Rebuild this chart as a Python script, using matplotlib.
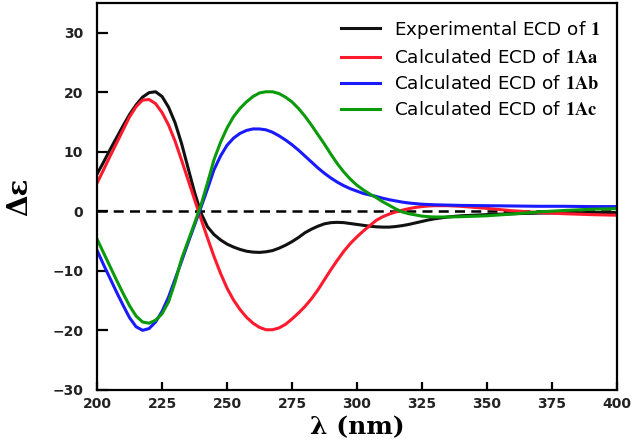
## ECD spectra: experimental vs calculated
import numpy as np
import matplotlib.pyplot as plt

plt.rcParams['mathtext.fontset'] = 'stix'

#%% DATA
wl = [200, 202.5, 205, 207.5, 210, 212.5, 215, 217.5, 220, 222.5,
      225, 227.5, 230, 232.5, 235, 237.5, 240, 242.5, 245, 247.5,
      250, 252.5, 255, 257.5, 260, 262.5, 265, 267.5, 270, 272.5,
      275, 277.5, 280, 282.5, 285, 287.5, 290, 292.5, 295, 297.5,
      300, 302.5, 305, 307.5, 310, 312.5, 315, 317.5, 320, 322.5,
      325, 327.5, 330, 335, 340, 350, 360, 370, 380, 390, 400]

exp_1 = [6.3, 8.3, 10.4, 12.4, 14.4, 16.3, 17.9, 19.2, 19.95, 20.1,
         19.3, 17.5, 14.9, 11.4, 7.3, 3.2, -0.3, -2.6, -3.9, -4.8,
         -5.5, -6.0, -6.4, -6.7, -6.85, -6.9, -6.8, -6.6, -6.2, -5.7,
         -5.1, -4.4, -3.6, -3.0, -2.5, -2.1, -1.9, -1.85, -1.9, -2.05,
         -2.2, -2.35, -2.5, -2.6, -2.65, -2.65, -2.55, -2.4, -2.2, -1.95,
         -1.7, -1.45, -1.25, -0.95, -0.75, -0.55, -0.4, -0.3, -0.25, -0.2, -0.2]

calc_1Aa = [4.8, 7.0, 9.3, 11.5, 13.7, 15.9, 17.6, 18.7, 18.8, 18.1,
            16.6, 14.5, 11.8, 8.6, 5.3, 2.0, -1.3, -4.5, -7.6, -10.4,
            -12.9, -14.9, -16.5, -17.8, -18.8, -19.5, -19.9, -19.9, -19.6, -19.0,
            -18.1, -17.1, -16.0, -14.7, -13.2, -11.5, -9.8, -8.2, -6.7, -5.4,
            -4.3, -3.3, -2.4, -1.5, -0.9, -0.45, -0.1, 0.2, 0.45, 0.65,
            0.8, 0.9, 0.95, 0.95, 0.85, 0.5, 0.1, -0.2, -0.4, -0.55, -0.65]

calc_1Ab = [-6.6, -9.0, -11.3, -13.6, -15.8, -17.9, -19.4, -20.0, -19.7, -18.6,
            -16.8, -14.4, -11.4, -8.4, -5.3, -2.3, 0.7, 3.8, 7.0, 9.3,
            11.1, 12.3, 13.1, 13.6, 13.85, 13.85, 13.7, 13.3, 12.7, 12.0,
            11.2, 10.3, 9.3, 8.3, 7.3, 6.4, 5.6, 4.9, 4.3, 3.8,
            3.4, 3.0, 2.75, 2.5, 2.2, 1.95, 1.75, 1.55, 1.4, 1.3,
            1.2, 1.15, 1.1, 1.05, 1.0, 0.95, 0.9, 0.85, 0.85, 0.8, 0.8]

calc_1Ac = [-4.7, -7.0, -9.3, -11.6, -13.8, -15.9, -17.6, -18.6, -18.8, -18.3,
            -17.2, -15.2, -11.9, -8.0, -5.0, -2.0, 1.1, 4.8, 8.7, 11.6,
            14.0, 15.9, 17.3, 18.4, 19.3, 19.9, 20.1, 20.1, 19.8, 19.2,
            18.4, 17.3, 16.0, 14.5, 12.9, 11.3, 9.6, 8.0, 6.6, 5.4,
            4.4, 3.6, 2.9, 2.3, 1.6, 1.0, 0.4, -0.1, -0.4, -0.6,
            -0.8, -0.9, -0.95, -0.95, -0.9, -0.75, -0.45, -0.1, 0.15, 0.35, 0.45]

labels = [r'Experimental ECD of $\mathbf{1}$',
          r'Calculated ECD of $\mathbf{1Aa}$',
          r'Calculated ECD of $\mathbf{1Ab}$',
          r'Calculated ECD of $\mathbf{1Ac}$']
colors = ['#111111', '#ff1a2e', '#1a1aff', '#0a9a0a']

#%% FIGURE
fig = plt.figure(figsize=(6.35, 4.44), dpi=100)
ax = fig.add_axes([0.153, 0.122, 0.818, 0.871])

ax.axhline(0, color='black', lw=1.8, ls=(0, (4, 2.5)), zorder=1)
for y, lab, c in zip([exp_1, calc_1Aa, calc_1Ab, calc_1Ac], labels, colors):
    ax.plot(wl, y, '-', color=c, lw=2.2, label=lab)

ax.set_xlim(200, 400)
ax.set_ylim(-30, 35)
ax.set_xticks(np.arange(200, 401, 25))
ax.set_yticks(np.arange(-30, 31, 10))

for s in ax.spines.values():
    s.set_linewidth(1.6)
ax.tick_params(axis='both', direction='in', width=1.6, labelsize=10)
ax.tick_params(axis='y', length=8, pad=10)
ax.tick_params(axis='x', length=6, pad=5)
for t in ax.get_xticklabels() + ax.get_yticklabels():
    t.set_fontweight('bold')
    t.set_color('#222222')

ax.set_xlabel('λ (nm)', family='DejaVu Serif', fontweight='bold',
              fontsize=18, labelpad=3)
ax.set_ylabel('Δε', family='DejaVu Serif', fontweight='bold',
              fontsize=20, labelpad=14)

ax.legend(loc='upper right', frameon=False, fontsize=13.2,
          handlelength=2.1, handletextpad=0.8, labelspacing=0.45,
          borderaxespad=0.45)

fig.savefig('out.png', dpi=100)
